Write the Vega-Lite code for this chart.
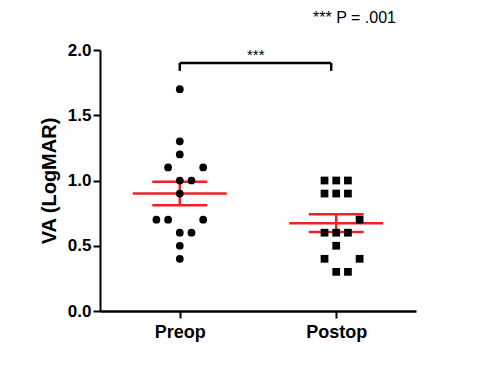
{
  "$schema": "https://vega.github.io/schema/vega-lite/v6.json",
  "width": 316,
  "height": 261,
  "autosize": "none",
  "padding": {"left": 100, "top": 50, "right": 65, "bottom": 61},
  "background": "white",
  "config": {"view": {"stroke": null}, "font": "Liberation Sans"},
  "title": {"text": "*** P = .001", "anchor": "end", "fontSize": 16, "fontWeight": "normal", "font": "Liberation Sans", "color": "black", "offset": 15, "dx": -20},
  "datasets": {
    "va": [
      {"group": "Preop", "va": 1.7, "slot": 0},
      {"group": "Preop", "va": 1.3, "slot": 0},
      {"group": "Preop", "va": 1.2, "slot": 0},
      {"group": "Preop", "va": 1.1, "slot": -1},
      {"group": "Preop", "va": 1.1, "slot": 2},
      {"group": "Preop", "va": 1.0, "slot": 0},
      {"group": "Preop", "va": 1.0, "slot": 1},
      {"group": "Preop", "va": 0.9, "slot": 0},
      {"group": "Preop", "va": 0.7, "slot": -2},
      {"group": "Preop", "va": 0.7, "slot": -1},
      {"group": "Preop", "va": 0.7, "slot": 2},
      {"group": "Preop", "va": 0.6, "slot": 0},
      {"group": "Preop", "va": 0.6, "slot": 1},
      {"group": "Preop", "va": 0.5, "slot": 0},
      {"group": "Preop", "va": 0.4, "slot": 0},
      {"group": "Postop", "va": 1.0, "slot": -1},
      {"group": "Postop", "va": 1.0, "slot": 0},
      {"group": "Postop", "va": 1.0, "slot": 1},
      {"group": "Postop", "va": 0.9, "slot": -1},
      {"group": "Postop", "va": 0.9, "slot": 0},
      {"group": "Postop", "va": 0.9, "slot": 1},
      {"group": "Postop", "va": 0.7, "slot": 2},
      {"group": "Postop", "va": 0.6, "slot": -1},
      {"group": "Postop", "va": 0.6, "slot": 0},
      {"group": "Postop", "va": 0.6, "slot": 1},
      {"group": "Postop", "va": 0.5, "slot": 0},
      {"group": "Postop", "va": 0.4, "slot": -1},
      {"group": "Postop", "va": 0.4, "slot": 2},
      {"group": "Postop", "va": 0.3, "slot": 0},
      {"group": "Postop", "va": 0.3, "slot": 1}
    ],
    "bracket": [
      {"from": "Preop", "to": "Postop", "y": 1.9, "yb": 1.84, "label": "***"}
    ]
  },
  "layer": [
    {
      "data": {"name": "va"},
      "mark": {"type": "errorbar", "extent": "stderr", "color": "#ec2227", "thickness": 2.5, "opacity": 1, "ticks": {"size": 55, "thickness": 2.5, "color": "#ec2227", "opacity": 1}},
      "encoding": {
        "x": {
          "field": "group", "type": "nominal", "sort": null,
          "scale": {"type": "point", "padding": 0.51, "domain": ["Preop", "Postop"]},
          "axis": {"title": null, "labelAngle": 0, "domainColor": "black", "domainWidth": 2.5, "tickColor": "black", "tickWidth": 2, "tickSize": 7, "labelFont": "Liberation Sans", "labelFontSize": 18, "labelFontWeight": "bold", "labelColor": "black", "labelPadding": 5}
        },
        "y": {
          "field": "va", "type": "quantitative", "title": "VA (LogMAR)",
          "scale": {"domain": [0, 2]},
          "axis": {"values": [0, 0.5, 1, 1.5, 2], "format": ".1f", "grid": false, "domainColor": "black", "domainWidth": 2, "tickColor": "black", "tickWidth": 2, "tickSize": 7, "labelFont": "Liberation Sans", "labelFontSize": 17, "labelFontWeight": "bold", "labelColor": "black", "labelPadding": 2, "titleFont": "Liberation Sans", "titleFontSize": 20, "titleFontWeight": "bold", "titleColor": "black", "titlePadding": 8}
        }
      }
    },
    {
      "data": {"name": "va"},
      "mark": {"type": "tick", "size": 94, "thickness": 2.5, "color": "#ec2227", "opacity": 1},
      "encoding": {
        "x": {"field": "group", "type": "nominal", "sort": null},
        "y": {"aggregate": "mean", "field": "va", "type": "quantitative", "title": "VA (LogMAR)"}
      }
    },
    {
      "data": {"name": "va"},
      "mark": {"type": "point", "filled": true, "opacity": 1, "size": 60},
      "encoding": {
        "x": {"field": "group", "type": "nominal", "sort": null},
        "xOffset": {"field": "slot", "type": "quantitative", "scale": {"domain": [-2, 2], "range": [-23.4, 23.4]}},
        "y": {"field": "va", "type": "quantitative", "title": "VA (LogMAR)"},
        "shape": {"field": "group", "type": "nominal", "scale": {"domain": ["Preop", "Postop"], "range": ["circle", "square"]}, "legend": null},
        "color": {"value": "black"}
      }
    },
    {
      "data": {"name": "bracket"},
      "mark": {"type": "rule", "color": "black", "strokeWidth": 2.5, "x2Offset": -5},
      "encoding": {
        "x": {"field": "from", "type": "nominal", "sort": null},
        "x2": {"field": "to"},
        "y": {"field": "y", "type": "quantitative"}
      }
    },
    {
      "data": {"name": "bracket"},
      "mark": {"type": "rule", "color": "black", "strokeWidth": 2.5},
      "encoding": {
        "x": {"field": "from", "type": "nominal", "sort": null},
        "y": {"field": "y", "type": "quantitative"},
        "y2": {"field": "yb"}
      }
    },
    {
      "data": {"name": "bracket"},
      "mark": {"type": "rule", "color": "black", "strokeWidth": 2.5, "xOffset": -5},
      "encoding": {
        "x": {"field": "to", "type": "nominal", "sort": null},
        "y": {"field": "y", "type": "quantitative"},
        "y2": {"field": "yb"}
      }
    },
    {
      "data": {"name": "bracket"},
      "mark": {"type": "text", "fontSize": 15, "color": "black", "dx": 76, "dy": -3, "baseline": "alphabetic", "align": "center"},
      "encoding": {
        "x": {"field": "from", "type": "nominal", "sort": null},
        "y": {"field": "y", "type": "quantitative"},
        "text": {"field": "label"}
      }
    }
  ]
}
